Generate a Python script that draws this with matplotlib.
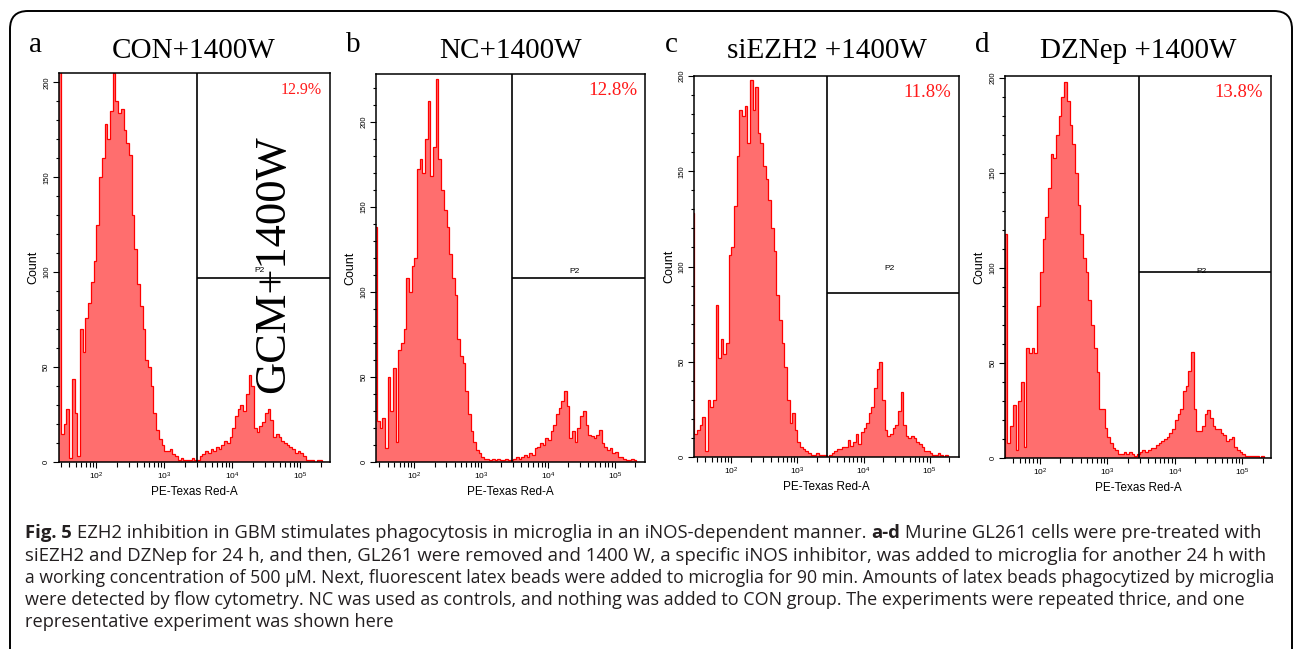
import numpy as np
import matplotlib.pyplot as plt
from matplotlib.patches import FancyBboxPatch
from matplotlib.ticker import LogLocator, MultipleLocator, NullFormatter

plt.rcParams['font.family'] = ['Liberation Sans', 'DejaVu Sans']
plt.rcParams['mathtext.fontset'] = 'custom'
plt.rcParams['mathtext.rm'] = 'Liberation Sans'

# histogram channels: log10 edges, 0.04 decade wide
edges_log = np.round(np.linspace(1.40, 5.40, 101), 2)

counts_a = [0, 210, 15, 20, 28, 2, 44, 26, 3, 70,
            58, 76, 84, 95, 106, 125, 150, 160, 178, 170,
            185, 205, 190, 184, 186, 175, 168, 162, 130, 112,
            94, 82, 70, 54, 50, 40, 26, 17, 12, 9,
            6, 6, 7, 4, 3, 1, 2, 1, 1, 1,
            2, 1, 1, 3, 4, 6, 5, 7, 6, 8,
            7, 9, 11, 10, 13, 18, 24, 28, 30, 27,
            36, 46, 40, 18, 16, 19, 21, 26, 28, 22,
            13, 15, 13, 11, 10, 9, 8, 7, 5, 6,
            5, 3, 1, 1, 1, 0, 1, 1, 0, 0]
counts_b = [138, 24, 20, 26, 8, 50, 30, 55, 12, 66,
            70, 78, 108, 100, 115, 120, 172, 178, 170, 190,
            212, 168, 185, 225, 178, 160, 148, 138, 122, 108,
            98, 72, 62, 58, 42, 28, 18, 12, 7, 5,
            3, 2, 2, 1, 2, 1, 2, 1, 1, 2,
            1, 1, 2, 3, 2, 3, 4, 3, 5, 4,
            8, 9, 11, 10, 14, 13, 18, 22, 28, 32,
            36, 42, 33, 14, 18, 12, 20, 27, 30, 22,
            16, 15, 14, 16, 19, 11, 9, 7, 8, 5,
            6, 3, 3, 2, 1, 1, 2, 1, 0, 0]
counts_c = [128, 12, 14, 17, 21, 3, 30, 26, 30, 80,
            52, 62, 54, 60, 106, 110, 132, 158, 182, 179,
            184, 165, 198, 182, 194, 170, 165, 153, 146, 135,
            120, 108, 85, 72, 60, 47, 30, 18, 23, 14,
            8, 5, 4, 3, 2, 1, 1, 2, 1, 1,
            1, 0, 1, 2, 3, 4, 4, 5, 5, 9,
            6, 8, 12, 7, 13, 15, 18, 23, 26, 36,
            46, 50, 30, 14, 11, 12, 15, 17, 24, 34,
            17, 11, 10, 11, 10, 8, 7, 5, 3, 3,
            2, 1, 1, 2, 1, 0, 1, 0, 0, 0]
counts_d = [0, 0, 118, 8, 17, 28, 4, 30, 40, 6,
            58, 55, 58, 55, 80, 98, 115, 127, 142, 160,
            158, 170, 180, 190, 198, 188, 175, 165, 150, 133,
            118, 105, 98, 83, 70, 58, 45, 26, 26, 16,
            11, 8, 5, 4, 2, 2, 3, 2, 3, 2,
            1, 2, 3, 4, 3, 4, 5, 5, 7, 8,
            9, 10, 11, 13, 15, 20, 23, 26, 35, 38,
            46, 56, 26, 14, 14, 17, 23, 25, 21, 17,
            15, 15, 13, 12, 9, 10, 11, 6, 4, 3,
            2, 1, 1, 1, 1, 1, 0, 1, 0, 0]

panel_letters = ['a', 'b', 'c', 'd']
panel_titles = ['CON+1400W', 'NC+1400W', 'siEZH2 +1400W', 'DZNep +1400W']
p2_percent = ['12.9%', '12.8%', '11.8%', '13.8%']
gate_log = [3.48, 3.46, 3.454, 3.468]
p2_level = [97, 108, 86, 98]
count_max = [205, 228, 200, 201]
x_log_range = [(1.443, 5.43), (1.425, 5.45), (1.434, 5.445), (1.483, 5.425)]

caption_lines = [
    'siEZH2 and DZNep for 24 h, and then, GL261 were removed and 1400 W, a specific iNOS inhibitor, was added to microglia for another 24 h with',
    'a working concentration of 500 \u03bcM. Next, fluorescent latex beads were added to microglia for 90 min. Amounts of latex beads phagocytized by microglia',
    'were detected by flow cytometry. NC was used as controls, and nothing was added to CON group. The experiments were repeated thrice, and one',
    'representative experiment was shown here',
]
caption_first = [('Fig. 5', 'bold'),
                 ('EZH2 inhibition in GBM stimulates phagocytosis in microglia in an iNOS-dependent manner.', 'normal'),
                 ('a-d', 'bold'),
                 ('Murine GL261 cells were pre-treated with', 'normal')]

# layout in pixels (left, top, right, bottom)
W, H = 1295, 649
boxes = [(58.5, 73, 329.5, 462), (376, 74, 645, 462), (694, 76, 959, 457), (1005, 76, 1271, 458)]
pct_size = [11.5, 13.7, 13.5, 13.5]
p2_offset = [4, 4, 13, 0]
cap_y = [533, 556, 578, 600, 622]
cap_x0 = 25
cap_right = [1255, 1264, 1265, 1245]

fig = plt.figure(figsize=(W / 100, H / 100), dpi=100)
edges = 10 ** edges_log
all_counts = [counts_a, counts_b, counts_c, counts_d]

for i in range(4):
    x0, y0, x1, y1 = boxes[i]
    ax = fig.add_axes([x0 / W, 1 - y1 / H, (x1 - x0) / W, (y1 - y0) / H])
    ax.stairs(all_counts[i], edges, fill=True, color='#ff6e6e', lw=0)
    ax.stairs(all_counts[i], edges, color='#ff0000', lw=0.9)
    ax.set_xscale('log')
    lo, hi = x_log_range[i]
    ax.set_xlim(10 ** lo, 10 ** hi)
    ax.set_ylim(0, count_max[i])

    # P2 gate
    g = 10 ** gate_log[i]
    ax.axvline(g, color='black', lw=1.2)
    ax.hlines(p2_level[i], g, 10 ** hi, color='black', lw=1.2)
    ax.text(10 ** 4.4, p2_level[i] + p2_offset[i], 'P2', fontsize=6, ha='center', va='center')
    ax.text(0.97, 0.957, p2_percent[i], transform=ax.transAxes, ha='right', va='center',
            color='#ff1a1a', fontsize=pct_size[i], family='Liberation Serif')

    ax.xaxis.set_major_locator(LogLocator(base=10, numticks=10))
    ax.xaxis.set_minor_locator(LogLocator(base=10, subs=np.arange(2, 10), numticks=20))
    ax.xaxis.set_minor_formatter(NullFormatter())
    ax.yaxis.set_major_locator(MultipleLocator(50))
    ax.yaxis.set_minor_locator(MultipleLocator(10))
    ax.tick_params(axis='x', which='major', length=4.5, width=0.8, labelsize=6, pad=2)
    ax.tick_params(axis='x', which='minor', length=3.5, width=0.8)
    ax.tick_params(axis='y', which='major', length=4, width=0.8, labelsize=5.5, pad=2, labelrotation=90)
    ax.tick_params(axis='y', which='minor', length=2.5, width=0.8)
    plt.setp(ax.get_yticklabels(), va='center')
    for s in ax.spines.values():
        s.set_linewidth(1.1)

    ax.set_xlabel('PE-Texas Red-A', fontsize=8.5, labelpad=3)
    ax.set_ylabel('Count', fontsize=9)
    ax.yaxis.set_label_coords(-0.072, 0.5)

    fig.text((x0 + x1) / 2 / W, 1 - 58 / H, panel_titles[i], family='Liberation Serif',
             fontsize=21, ha='center', va='baseline')
    fig.text((x0 - 23) / W, 1 - 52 / H, panel_letters[i], family='Liberation Serif',
             fontsize=21, ha='center', va='baseline')

fig.text(273 / W, 1 - 264 / H, 'GCM+1400W', family='Liberation Serif', fontsize=32,
         rotation=90, ha='center', va='center')

# rounded frame
frame = FancyBboxPatch((0.10, -0.3), 12.82, 6.68, boxstyle='round,pad=0,rounding_size=0.18',
                       transform=fig.dpi_scale_trans, fill=False, lw=1.4, ec='black')
fig.add_artist(frame)

# caption, each line sized to reach the reference line end
renderer = fig.canvas.get_renderer()
cap_font = 'Open Sans'


def width_px(s, size, weight='normal'):
    t = fig.text(0, 0, s, family=cap_font, fontsize=size, weight=weight)
    w = t.get_window_extent(renderer).width
    t.remove()
    return w


space12 = width_px('x x', 12) - width_px('xx', 12)
first_w = sum(width_px(t, 12, wt) for t, wt in caption_first) + space12 * (len(caption_first) - 1)
sizes = [12 * (cap_right[0] - cap_x0) / first_w]
for k in range(3):
    sizes.append(12 * (cap_right[k + 1] - cap_x0) / width_px(caption_lines[k], 12))
sizes.append(float(np.mean(sizes)))

x = cap_x0
space_w = space12 * sizes[0] / 12
for txt, wt in caption_first:
    t = fig.text(x / W, 1 - cap_y[0] / H, txt, family=cap_font, fontsize=sizes[0],
                 weight=wt, color='#231f20', va='center', ha='left')
    x += t.get_window_extent(renderer).width + space_w
for k, line in enumerate(caption_lines):
    fig.text(cap_x0 / W, 1 - cap_y[k + 1] / H, line, family=cap_font, fontsize=sizes[k + 1],
             color='#231f20', va='center', ha='left')

plt.savefig('out.png', dpi=100, facecolor='white')
plt.close()
